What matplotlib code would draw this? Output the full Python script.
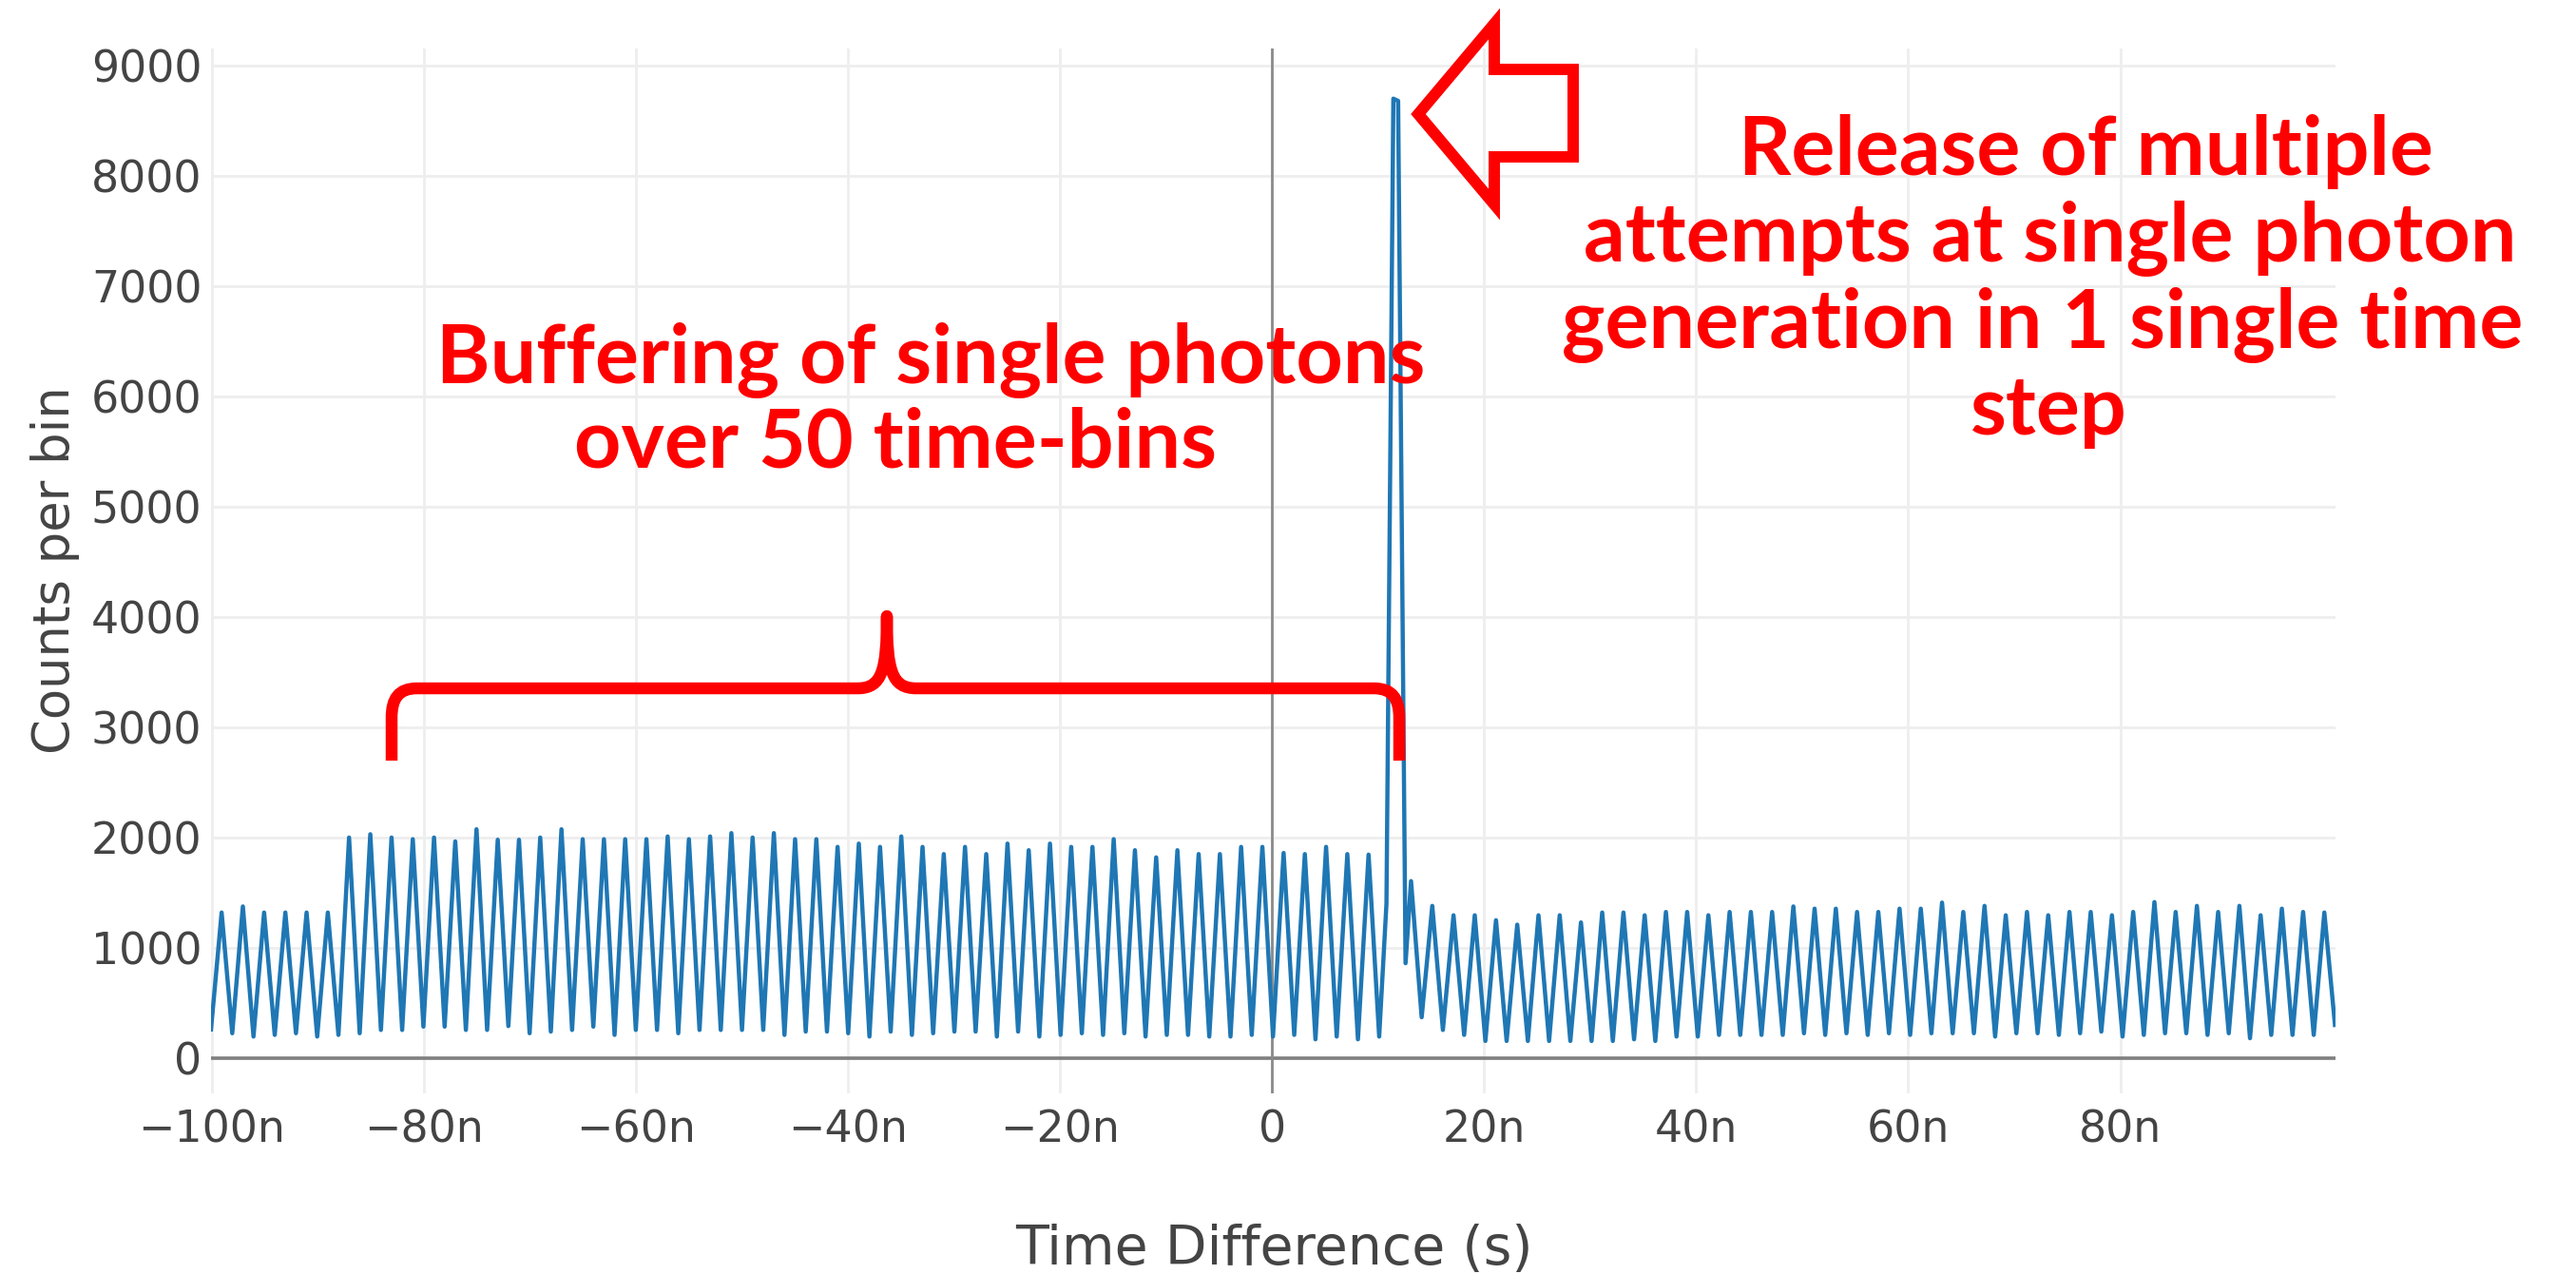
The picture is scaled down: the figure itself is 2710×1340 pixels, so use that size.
import numpy as np
import matplotlib
matplotlib.use('Agg')
import matplotlib.pyplot as plt
from matplotlib.path import Path
from matplotlib.patches import PathPatch, Polygon

# counts per bin: one value per peak, one per trough
peak_counts = [1320, 1375, 1320, 1320, 1320, 1320, 2000, 2030, 2000, 1985,
               2000, 1965, 2075, 1980, 1980, 2000, 2075, 1985, 1985, 1985,
               1985, 2010, 1985, 2010, 2040, 2000, 2040, 1985, 1985, 1915,
               1945, 1915, 2010, 1915, 1850, 1915, 1850, 1945, 1885, 1945,
               1915, 1915, 1985, 1885, 1820, 1885, 1850, 1850, 1915, 1915,
               1860, 1850, 1915, 1850, 1845, 8700, 1605, 1380, 1295, 1295,
               1250, 1210, 1295, 1295, 1230, 1320, 1320, 1295, 1325, 1325,
               1295, 1325, 1325, 1325, 1375, 1355, 1355, 1325, 1325, 1355,
               1355, 1410, 1325, 1380, 1295, 1325, 1295, 1325, 1325, 1295,
               1325, 1415, 1325, 1380, 1325, 1380, 1295, 1355, 1325, 1320]
trough_counts = [260, 225, 195, 210, 225, 195, 210, 225, 255, 255,
                 285, 285, 255, 255, 290, 225, 240, 255, 285, 210,
                 255, 255, 225, 255, 255, 255, 255, 210, 240, 240,
                 225, 195, 240, 210, 225, 240, 240, 195, 240, 195,
                 210, 225, 210, 225, 195, 210, 210, 195, 195, 210,
                 195, 210, 170, 195, 170, 195, 860, 370, 255, 210,
                 155, 155, 155, 155, 155, 155, 155, 170, 155, 195,
                 195, 210, 210, 210, 210, 225, 210, 225, 210, 225,
                 210, 225, 225, 225, 195, 225, 225, 210, 225, 240,
                 195, 210, 225, 225, 210, 225, 180, 210, 210, 210,
                 300]
# the release bin after the buffer, sampled a little finer
spike_ns = [10.8, 11.45, 11.9, 12.6]
spike_counts = [1400, 8700, 8680, 860]

first_peak_ns = -99.05
period_ns = 2.003

x_ticks = [-100, -80, -60, -40, -20, 0, 20, 40, 60, 80]
x_tick_labels = ['\u2212100n', '\u221280n', '\u221260n', '\u221240n', '\u221220n',
                 '0', '20n', '40n', '60n', '80n']
y_ticks = [0, 1000, 2000, 3000, 4000, 5000, 6000, 7000, 8000, 9000]

W, H = 2710, 1340


def fig_xy(x, y):
    # pixel position (y measured from the top) -> figure fraction
    return (x / W, 1 - y / H)


# zig-zag trace: trough, peak, trough, ... with the spike samples swapped in
n = len(peak_counts)
counts = np.empty(2 * n + 1)
counts[0::2] = trough_counts
counts[1::2] = peak_counts
t = first_peak_ns + (np.arange(2 * n + 1) - 1) * period_ns / 2
keep = (t < 10.5) | (t > 12.8)
t = np.concatenate([t[keep], spike_ns])
counts = np.concatenate([counts[keep], spike_counts])
order = np.argsort(t)
t, counts = t[order], counts[order]

fig = plt.figure(figsize=(W / 100, H / 100), dpi=100)
ax = fig.add_axes([222 / W, 1 - 1150 / H, (2457 - 222) / W, (1150 - 51) / H])
ax.plot(t, counts, color='#1f77b4', lw=3.2, zorder=3)
ax.axhline(0, color='#7f7f7f', lw=2.6, zorder=2)
ax.axvline(0, color='#8a8a8a', lw=2.0, zorder=2)
ax.set_xlim(-100.05, 100.3)
ax.set_ylim(-320, 9155)
ax.set_xticks(x_ticks, x_tick_labels)
ax.set_yticks(y_ticks)
ax.grid(color='#eeeeee', lw=2)
ax.set_axisbelow(True)
for s in ax.spines.values():
    s.set_visible(False)
ax.tick_params(length=0, labelsize=33, labelcolor='#444444')
ax.tick_params(axis='x', pad=12)
ax.tick_params(axis='y', pad=7)

fig.text(*fig_xy(1340, 1315), 'Time Difference (s)', fontsize=41, color='#444444',
         ha='center', va='center')
fig.text(*fig_xy(58, 600), 'Counts per bin', fontsize=38, color='#444444',
         rotation=90, ha='center', va='center')

red_font = dict(color='#ff0000', fontsize=62, family='Lato', weight='bold',
                ha='center', va='baseline')
fig.text(*fig_xy(979, 403), 'Buffering of single photons', **red_font)
fig.text(*fig_xy(942, 492), 'over 50 time-bins', **red_font)
fig.text(*fig_xy(2194, 184), 'Release of multiple', **red_font)
fig.text(*fig_xy(2157, 275), 'attempts at single photon', **red_font)
fig.text(*fig_xy(2149, 366), 'generation in 1 single time', **red_font)
fig.text(*fig_xy(2155, 457), 'step', **red_font)

# hollow arrow pointing at the spike
arrow_px = [(1492, 120), (1572, 25), (1572, 73), (1655, 73),
            (1655, 165), (1572, 165), (1572, 215)]
fig.patches.append(Polygon([fig_xy(x, y) for x, y in arrow_px], closed=True,
                           fill=False, edgecolor='#ff0000', lw=8.6,
                           joinstyle='miter', transform=fig.transFigure))

# curly brace over the buffered bins
brace_px = [(412, 800), (412, 755),
            (412, 735), (419, 724), (439, 724),
            (902, 724),
            (928, 724), (933, 705), (933, 648),
            (933, 705), (938, 724), (964, 724),
            (1445, 724),
            (1465, 724), (1472, 735), (1472, 755),
            (1472, 800)]
brace_codes = [Path.MOVETO, Path.LINETO,
               Path.CURVE4, Path.CURVE4, Path.CURVE4,
               Path.LINETO,
               Path.CURVE4, Path.CURVE4, Path.CURVE4,
               Path.CURVE4, Path.CURVE4, Path.CURVE4,
               Path.LINETO,
               Path.CURVE4, Path.CURVE4, Path.CURVE4,
               Path.LINETO]
brace = Path([fig_xy(x, y) for x, y in brace_px], brace_codes)
fig.patches.append(PathPatch(brace, fill=False, edgecolor='#ff0000', lw=9,
                             capstyle='butt', joinstyle='round',
                             transform=fig.transFigure))

fig.savefig('out.png', dpi=100)
